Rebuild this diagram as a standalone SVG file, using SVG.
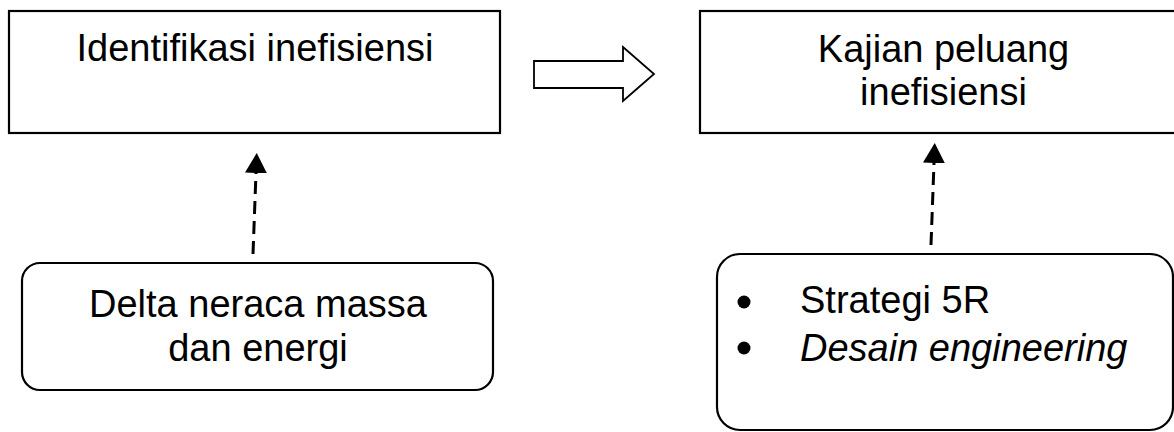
<svg xmlns="http://www.w3.org/2000/svg" width="1174" height="432" viewBox="0 0 1174 432">
<style>
.box{fill:#fff;stroke:#000;stroke-width:2.2}
.t{font-family:"Liberation Sans",Arial,sans-serif;font-size:38px;fill:#000}
.c{text-anchor:middle}
.dash{stroke:#000;stroke-width:3;stroke-dasharray:13 7;fill:none}
</style>
<defs>
<marker id="ah" markerWidth="22" markerHeight="22" viewBox="0 0 22 22" refX="0" refY="11" orient="auto" markerUnits="userSpaceOnUse">
<path d="M0,0 L20,11 L0,22 Z" fill="#000"/>
</marker>
</defs>
<rect width="1174" height="432" fill="#fff"/>
<g id="identifikasi">
<rect class="box" x="9" y="11" width="491" height="122"/>
<text class="t c" x="255" y="61">Identifikasi inefisiensi</text>
</g>
<g id="kajian">
<rect class="box" x="700" y="11" width="487" height="122"/>
<text class="t c" x="943.5" y="62">Kajian peluang</text>
<text class="t c" x="943.5" y="105">inefisiensi</text>
</g>
<g id="delta">
<rect class="box" x="22" y="263" width="471" height="127" rx="18" ry="18"/>
<text class="t c" x="258" y="317">Delta neraca massa</text>
<text class="t c" x="258" y="361">dan energi</text>
</g>
<g id="strategi">
<rect class="box" x="717" y="254" width="456" height="176" rx="23" ry="23"/>
<circle cx="744" cy="302" r="6.5" fill="#000"/>
<circle cx="744" cy="348" r="6.5" fill="#000"/>
<text class="t" x="800" y="313">Strategi 5R</text>
<text class="t" x="800" y="361" font-style="italic">Desain engineering</text>
</g>
<g id="connectors">
<polygon points="534,61 623,61 623,47 654,74 623,101 623,88 534,88" fill="#fff" stroke="#000" stroke-width="1.8" stroke-linejoin="miter"/>
<line class="dash" x1="253" y1="254" x2="256" y2="173" marker-end="url(#ah)"/>
<line class="dash" x1="931" y1="245" x2="934" y2="163" marker-end="url(#ah)"/>
</g>
</svg>
